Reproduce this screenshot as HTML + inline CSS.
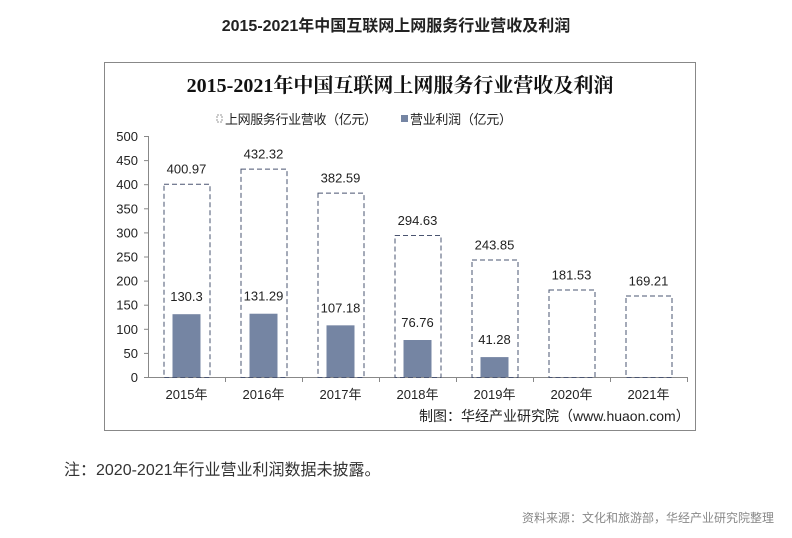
<!DOCTYPE html>
<html><head><meta charset="utf-8"><style>
body{margin:0;width:792px;height:538px;background:#fff;font-family:"Liberation Sans","Noto Sans CJK SC",sans-serif;position:relative;overflow:hidden}
.t{position:absolute;white-space:nowrap}
</style></head><body>
<div class="t" style="left:0;width:792px;text-align:center;top:12px;font-size:16px;font-weight:bold;color:#222">2015-2021年中国互联网上网服务行业营收及利润</div>
<svg width="792" height="538" style="position:absolute;left:0;top:0" id="chart">
<rect x="104.5" y="62.5" width="591" height="368" fill="#fff" stroke="#888"/>
<text x="400" y="92" text-anchor="middle" font-family="'Liberation Serif','Noto Serif CJK SC',serif" font-weight="bold" font-size="20" fill="#111">2015-2021年中国互联网上网服务行业营收及利润</text>
<g font-size="13" fill="#222">
<rect x="217" y="115" width="5" height="7" fill="#fff" stroke="#999" stroke-dasharray="2,1"/>
<text x="225" y="124" textLength="152">上网服务行业营收（亿元）</text>
<rect x="401" y="115" width="7" height="7" fill="#7585a3"/>
<text x="410" y="124" textLength="102">营业利润（亿元）</text>
</g>
<g id="plot"></g>
</svg>
<div class="t" style="left:419px;top:406px;font-size:14px;color:#222">制图：华经产业研究院（www.huaon.com）</div>
<div class="t" style="left:64px;top:456px;font-size:16px;color:#333">注：2020-2021年行业营业利润数据未披露。</div>
<div class="t" style="right:18px;top:509px;font-size:12px;color:#888">资料来源：文化和旅游部，华经产业研究院整理</div>
<script>
const categories=["2015年","2016年","2017年","2018年","2019年","2020年","2021年"];
const revenue=[400.97,432.32,382.59,294.63,243.85,181.53,169.21];
const revenueLabels=["400.97","432.32","382.59","294.63","243.85","181.53","169.21"];
const profit=[130.3,131.29,107.18,76.76,41.28,null,null];
const profitLabels=["130.3","131.29","107.18","76.76","41.28","",""];
const yTicks=[0,50,100,150,200,250,300,350,400,450,500];
const NS="http://www.w3.org/2000/svg";
const g=document.getElementById('plot');
const x0=148,bw=77,y0=377,yTop=136,yMax=500;
const y=v=>y0-(v/yMax)*(y0-yTop);
const xc=i=>x0+bw*(i+0.5);
function mk(t,a,txt){const e=document.createElementNS(NS,t);for(const k in a)e.setAttribute(k,a[k]);if(txt!=null)e.textContent=txt;g.appendChild(e);return e;}
let ax=mk('line',{x1:x0+.5,x2:x0+.5,y1:yTop,y2:y0,stroke:'#888'});

let bx=mk('line',{x1:x0,x2:x0+bw*categories.length,y1:y0+.5,y2:y0+.5,stroke:'#888'});

yTicks.forEach(v=>{
 mk('line',{x1:x0-4,x2:x0,y1:y(v)+.5,y2:y(v)+.5,stroke:'#888'});
 const t=mk('text',{x:x0-10,y:y(v)+5,'text-anchor':'end','font-size':13,fill:'#222'},v);
 
});
categories.forEach((c,i)=>{
 mk('line',{x1:x0+bw*(i+1)+.5,x2:x0+bw*(i+1)+.5,y1:y0,y2:y0+5,stroke:'#888'});
 const r=mk('rect',{x:xc(i)-23+.5,y:y(revenue[i])+.5,width:46,height:y0-y(revenue[i]),fill:'none',stroke:'#4a5470','stroke-dasharray':'5,3'});
 
 const rl=mk('text',{x:xc(i),y:y(revenue[i])-10,'text-anchor':'middle','font-size':13,fill:'#222'},revenueLabels[i]);
 
 if(profit[i]!=null){
  const p=mk('rect',{x:xc(i)-14,y:y(profit[i]),width:28,height:y0-y(profit[i]),fill:'#7585a3'});
  
  const pl=mk('text',{x:xc(i),y:y(profit[i])-13,'text-anchor':'middle','font-size':13,fill:'#222'},profitLabels[i]);
  
 }
 const xl=mk('text',{x:xc(i),y:y0+22,'text-anchor':'middle','font-size':13,fill:'#222'},c);
 
});
</script>
</body></html>
